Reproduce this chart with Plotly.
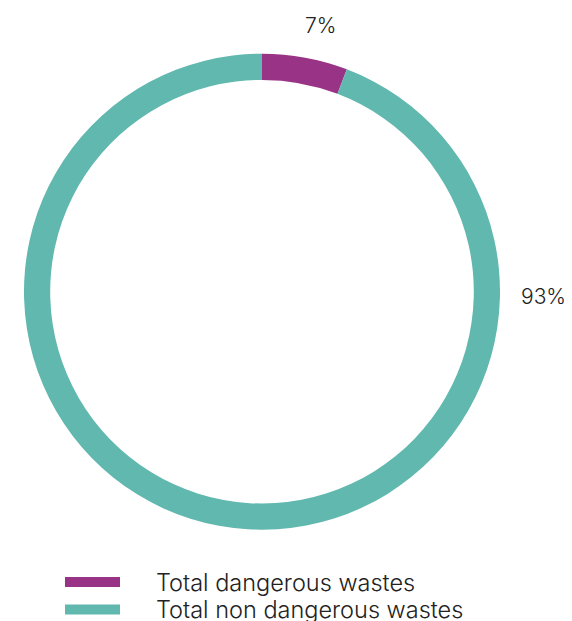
import plotly.graph_objects as go

categories = ["Total dangerous wastes", "Total non dangerous wastes"]
values = [5.8, 94.2]
pct_labels = ["7%", "93%"]
colors = ["#993386", "#60b8ae"]

W, H = 572, 621
cx, cy, R = 262, 291.7, 238

fig = go.Figure()
fig.add_trace(go.Pie(
    labels=categories,
    values=values,
    hole=0.89,
    sort=False,
    direction="clockwise",
    rotation=0,
    textinfo="none",
    hoverinfo="label+percent",
    marker=dict(colors=colors, line=dict(width=0)),
    domain=dict(x=[(cx - R) / W, (cx + R) / W],
                y=[(H - cy - R) / H, (H - cy + R) / H]),
    showlegend=False,
))

lab_font = dict(family="Inter, Open Sans, sans-serif", size=21, color="#222222", weight=300)
leg_font = dict(family="Inter, Open Sans, sans-serif", size=23.5, color="#222222", weight=300)

# percentage labels
label_pos = [(320, 26), (543, 296)]
for txt, (x, y) in zip(pct_labels, label_pos):
    fig.add_annotation(x=x / W, y=1 - y / H, xref="paper", yref="paper",
                       text=txt, showarrow=False, font=lab_font,
                       xanchor="center", yanchor="middle")

# legend
leg_y = [582, 609.5]
for name, col, y in zip(categories, colors, leg_y):
    fig.add_shape(type="rect", xref="paper", yref="paper",
                  x0=65 / W, x1=120 / W,
                  y0=1 - (y + 5) / H, y1=1 - (y - 5) / H,
                  fillcolor=col, line=dict(width=0))
    fig.add_annotation(x=154 / W, y=1 - y / H, xref="paper", yref="paper",
                       text=name, showarrow=False, font=leg_font,
                       xanchor="left", yanchor="middle")

fig.update_layout(
    width=W, height=H,
    margin=dict(l=0, r=0, t=0, b=0),
    paper_bgcolor="white",
    plot_bgcolor="white",
)

fig.write_html("out.html")
